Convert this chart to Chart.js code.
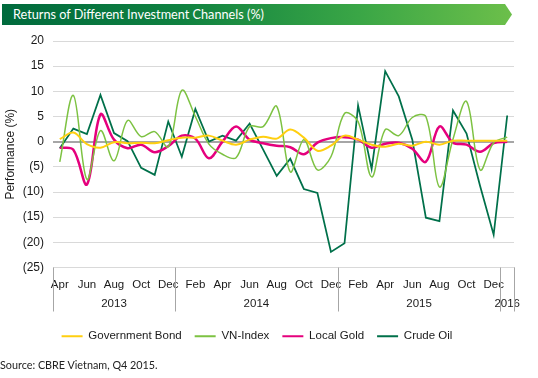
<!DOCTYPE html>
<html><head><meta charset="utf-8">
<script src="https://cdn.jsdelivr.net/npm/chart.js@4.4.0/dist/chart.umd.min.js"></script>
<style>
html,body{margin:0;padding:0;background:#fff;width:538px;height:378px;overflow:hidden;}
#wrap{position:relative;width:538px;height:378px;}
#c{position:absolute;left:0;top:0;}
#banner{position:absolute;left:2px;top:4px;width:510px;height:21px;background:linear-gradient(to right,#006a3d 0%,#0f8140 35%,#3aa646 70%,#6cbf4a 100%);clip-path:polygon(0 0,503px 0,510px 50%,503px 100%,0 100%);color:#fff;font:12.7px Lato, sans-serif;line-height:21px;padding-left:11px;box-sizing:border-box;white-space:nowrap;}
#source{position:absolute;left:0;top:358px;font:10.8px Lato,sans-serif;color:#222;white-space:nowrap;}
</style></head>
<body><div id="wrap"><canvas id="c" width="538" height="378"></canvas>
<div id="banner">Returns of Different Investment Channels (%)</div>
<div id="source">Source: CBRE Vietnam, Q4 2015.</div></div>
<script>
// ---- data ----
const months = ['Apr','May','Jun','Jul','Aug','Sep','Oct','Nov','Dec',
  'Jan','Feb','Mar','Apr','May','Jun','Jul','Aug','Sep','Oct','Nov','Dec',
  'Jan','Feb','Mar','Apr','May','Jun','Jul','Aug','Sep','Oct','Nov','Dec',
  'Jan'];
const yearNames = ['2013','2014','2015','2016'];
const monthsPerYear = [9,12,12,1];
const seriesNames = ['Government Bond','VN-Index','Local Gold','Crude Oil'];
const govBond = [0.5,1.8,-0.5,-1.2,-0.1,-0.3,-0.2,-0.3,0.3,0.8,0.8,1.2,0.2,-0.6,0.4,1.0,0.6,2.4,0.8,-1.8,-0.8,1.2,0.4,-0.6,-1.0,-0.4,-0.8,0.0,-0.6,0.2,0.2,0.2,0.2,0.2];
const vnIndex = [-4.0,9.2,-7.5,2.2,-3.8,4.2,1.0,2.0,-1.0,10.2,5.0,-0.5,-2.5,-3.2,3.0,3.0,7.0,-6.0,0.4,-5.6,-3.0,5.6,4.0,-7.0,2.4,1.2,4.8,5.0,-9.0,0.5,8.0,-5.6,-0.2,0.9];
const localGold = [-1.2,-1.6,-8.5,5.4,0.4,-1.3,-0.6,-2.1,-0.9,1.2,0.6,-3.3,0.0,3.0,0.4,-0.3,-0.8,-1.1,-2.5,-0.2,0.7,0.9,0.4,-1.2,-0.4,-0.2,-1.4,-4.0,3.0,-0.2,-0.6,-2.0,-0.3,0.0];
const crudeOil = [-1.3,2.6,1.5,9.3,1.7,0.1,-5.2,-6.6,4.0,-3.0,6.5,0.0,1.2,0.2,3.6,-1.6,-6.8,-3.4,-9.4,-10.2,-21.9,-20.2,7.2,-5.4,14.0,9.0,0.4,-15.1,-15.8,6.2,1.6,-8.8,-18.5,5.2];
const yMin = -25, yMax = 20, yStep = 5;
const colors = ['#FFCF10','#7DC242','#E5007D','#00704A'];
const widths = [2,1.5,2.5,1.75];
const tensions = [0.35,0.35,0.35,0];

const AX_FONT = '"Liberation Sans", Arial, sans-serif';
Chart.defaults.color = '#1a1a1a';
Chart.defaults.font.family = AX_FONT;

const yearBands = {
  id: 'yearBands',
  afterDraw(chart) {
    const x = chart.scales.x, ctx = chart.ctx;
    const top = chart.chartArea.bottom;
    const half = (x.getPixelForValue(1) - x.getPixelForValue(0)) / 2;
    ctx.save();
    ctx.font = '11.5px ' + AX_FONT;
    ctx.fillStyle = '#1a1a1a';
    ctx.textAlign = 'center';
    ctx.textBaseline = 'middle';
    const edges = [];
    let start = 0;
    yearNames.forEach((yr, i) => {
      const end = start + monthsPerYear[i] - 1;
      const l = x.getPixelForValue(start) - half;
      const r = x.getPixelForValue(end) + half;
      edges.push(Math.round(l), Math.round(r));
      ctx.fillText(yr, (l + r) / 2, top + 36);
      start = end + 1;
    });
    ctx.strokeStyle = '#a6a6a6';
    ctx.lineWidth = 1;
    [...new Set(edges)].forEach(e => {
      ctx.beginPath();
      ctx.moveTo(e + 0.5, top);
      ctx.lineTo(e + 0.5, top + 44);
      ctx.stroke();
    });
    ctx.restore();
  }
};

const seriesData = [govBond, vnIndex, localGold, crudeOil];
new Chart(document.getElementById('c'), {
  type: 'line',
  data: {
    labels: months,
    datasets: seriesNames.map((n, i) => ({
      label: n,
      data: seriesData[i],
      borderColor: colors[i],
      backgroundColor: colors[i],
      borderWidth: widths[i],
      tension: tensions[i],
      pointRadius: 0,
      fill: false
    }))
  },
  options: {
    responsive: false,
    animation: false,
    devicePixelRatio: 1,
    layout: { padding: { left: 0, right: 24, top: 41, bottom: 26 } },
    plugins: {
      title: { display: false },
      tooltip: { enabled: false },
      legend: {
        position: 'bottom',
        labels: {
          font: { size: 11.5, family: AX_FONT },
          color: '#1a1a1a',
          boxWidth: 21,
          boxHeight: 2,
          padding: 13,
          generateLabels(chart) {
            return Chart.defaults.plugins.legend.labels.generateLabels(chart).map(l => ({ ...l, lineWidth: 0 }));
          }
        }
      }
    },
    scales: {
      x: {
        offset: true,
        grid: { display: false, drawTicks: false },
        border: { display: true, color: '#d9d9d9' },
        ticks: {
          autoSkip: false, maxRotation: 0, minRotation: 0, padding: 10,
          font: { size: 11.5 },
          callback: (v, i) => (i % 2 === 0 ? months[i] : '')
        },
        afterFit: s => { s.height = 50; }
      },
      y: {
        min: yMin, max: yMax,
        ticks: {
          stepSize: yStep, padding: 9, font: { size: 12 },
          callback: v => (v < 0 ? '(' + (-v) + ')' : String(v))
        },
        grid: {
          drawTicks: false,
          color: c => (c.tick && c.tick.value === 0 ? '#a6a6a6' : '#d9d9d9'),
          lineWidth: c => (c.tick && c.tick.value === 0 ? 2 : 1)
        },
        border: { display: false },
        title: { display: true, text: 'Performance (%)', font: { size: 12 }, padding: { top: 3, bottom: 0 } },
        afterFit: s => { s.width = 53; }
      }
    }
  },
  plugins: [yearBands]
});
</script>
</body></html>
